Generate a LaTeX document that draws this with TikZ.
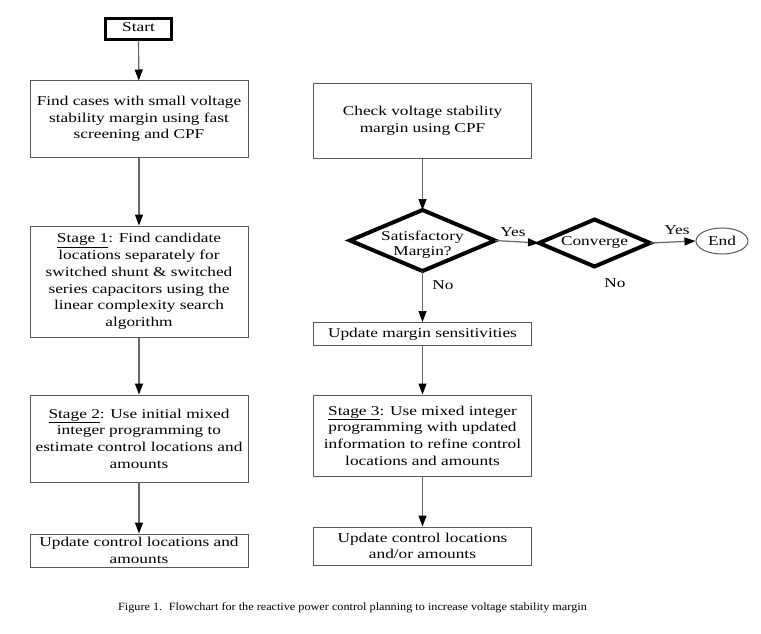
\documentclass[tikz,border=0pt]{standalone}
\usepackage{fontspec}
\setmainfont[FakeStretch=1.28]{Liberation Serif}
\newfontfamily\capfont[FakeStretch=1.1]{Liberation Serif}
\usetikzlibrary{shapes.geometric,arrows.meta}
\newcommand{\zerobox}[2][0pt]{\makebox[0pt]{\raisebox{#1}[0pt][0pt]{\begin{tabular}{@{}c@{}}#2\end{tabular}}}}
\begin{document}
\begin{tikzpicture}[x=1pt,y=-1pt,
  every node/.style={font=\fontsize{13.5}{16.7}\selectfont},
  box/.style={draw=black!65,line width=1pt,align=center,inner sep=1pt,minimum width=218pt},
  dia/.style={draw=black,line width=4pt,diamond,inner sep=0pt,outer sep=0pt},
  lbl/.style={inner sep=0pt},
  conn/.style={draw=black!60,line width=1.2pt,-{Triangle[length=11pt,width=8pt,color=black]}}]
\useasboundingbox (0,0) rectangle (761,634);
\node[draw=black,line width=3pt,minimum width=66pt,minimum height=21pt,inner sep=0pt] (start) at (138.5,29) {\raisebox{3pt}{Start}};
\node[box,minimum height=76pt] (b1) at (139,119) {Find cases with small voltage\\stability margin using fast\\screening and CPF};
\node[box,minimum height=111pt] (b2) at (139,281.5) {\underline{Stage 1}: Find candidate\\locations separately for\\switched shunt \& switched\\series capacitors using the\\linear complexity search\\algorithm};
\node[box,minimum height=87pt] (b3) at (139,438.5) {\underline{Stage 2}: Use initial mixed\\integer programming to\\estimate control locations and\\amounts};
\node[box,minimum height=33pt,inner sep=0pt] (b4) at (139,550.5) {Update control locations and\\amounts};
\node[box,minimum height=74pt] (r1) at (422.5,121) {Check voltage stability\\margin using CPF};
\node[dia,minimum width=145pt,minimum height=61pt] (d1) at (422.5,240.5) {\zerobox[-8pt]{Satisfactory\\[-1.5pt]Margin?}};
\node[dia,minimum width=111pt,minimum height=47pt] (d2) at (594.5,243) {\zerobox[-3pt]{Converge}};
\node[draw=black!65,line width=1pt,ellipse,minimum width=52pt,minimum height=26pt,inner sep=0pt] (end) at (722,241) {End};
\node[box,minimum height=23pt,inner sep=0pt] (r2) at (422.5,334) {Update margin sensitivities};
\node[box,minimum height=81pt] (r3) at (422.5,435.5) {\underline{Stage 3}: Use mixed integer\\programming with updated\\information to refine control\\locations and amounts};
\node[box,minimum height=38pt,inner sep=0pt] (r4) at (422.5,546) {Update control locations\\and/or amounts};
\draw[conn] (start) -- (b1);
\draw[conn] (b1) -- (b2);
\draw[conn] (b2) -- (b3);
\draw[conn] (b3) -- (b4);
\draw[conn] (r1) -- (d1);
\draw[conn] (d1.east) -- (d2.west);
\draw[conn] (d2.east) -- (end.west);
\draw[conn] (d1.south) -- (r2);
\draw[conn] (r2) -- (r3);
\draw[conn] (r3) -- (r4);
\node[lbl] (yes1) at (513,232) {Yes};
\node[lbl] (yes2) at (677,230) {Yes};
\node[lbl] (no1) at (443,285) {No};
\node[lbl] (no2) at (615,283) {No};
\node[anchor=west,inner sep=0pt,font=\capfont\fontsize{11.1}{12}\selectfont] (cap) at (118,608) {Figure 1.\hspace{0.6em}Flowchart for the reactive power control planning to increase voltage stability margin};
\end{tikzpicture}
\end{document}
